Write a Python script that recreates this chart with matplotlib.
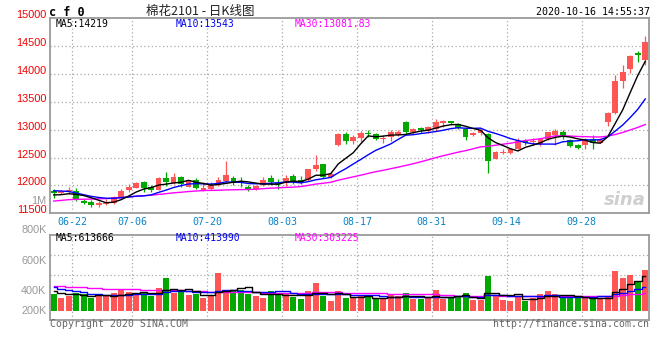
import matplotlib
matplotlib.use('Agg')
import matplotlib.pyplot as plt
import numpy as np
import pandas as pd

plt.rcParams['font.family'] = ['DejaVu Sans Mono', 'Noto Sans CJK SC']

# trading days shown on the chart (CF2101 daily K)
dates = pd.bdate_range('2020-06-17', '2020-10-16', freq='C',
                       holidays=['2020-06-25', '2020-06-26', '2020-10-01', '2020-10-02',
                                 '2020-10-05', '2020-10-06', '2020-10-07', '2020-10-08'])
day_labels = [d.strftime('%m-%d') for d in dates]
tick_labels = ['06-22', '07-06', '07-20', '08-03', '08-17', '08-31', '09-14', '09-28']

open_ = [11905, 11857, 11893, 11905, 11727, 11709, 11655, 11673, 11685, 11768,
         11923, 11958, 12066, 11965, 11923, 12131, 12036, 12155, 11976, 12101,
         11923, 11941, 12018, 12083, 12131, 12054, 11965, 11935, 12006, 12131,
         12042, 12042, 12173, 12096, 12096, 12292, 12381, 12155, 12720, 12917,
         12798, 12846, 12941, 12917, 12840, 12869, 12911, 13137, 12959, 13030,
         12970, 13018, 13125, 13149, 13101, 13006, 12899, 12946, 12917, 12482,
         12589, 12578, 12661, 12798, 12780, 12738, 12827, 12905, 12958, 12816,
         12726, 12720, 12839, 12768, 13131, 13292, 13881, 14095, 14369, 14250]
high = [11935, 11923, 11965, 11953, 11756, 11738, 11727, 11756, 11816, 11935,
        12024, 12066, 12084, 12006, 12143, 12250, 12220, 12173, 12101, 12125,
        12066, 12054, 12155, 12440, 12161, 12143, 12006, 12006, 12143, 12185,
        12113, 12185, 12197, 12161, 12304, 12548, 12393, 12262, 12935, 12953,
        12899, 12976, 12988, 12947, 12899, 12994, 12994, 13149, 13030, 13054,
        13066, 13197, 13173, 13161, 13125, 13018, 12958, 13018, 12946, 12613,
        12649, 12661, 12857, 12839, 12857, 12857, 12964, 13006, 12994, 12839,
        12744, 12857, 12899, 12857, 13310, 13982, 14161, 14345, 14417, 14690]
low = [11768, 11845, 11863, 11727, 11661, 11619, 11607, 11655, 11673, 11756,
       11875, 11947, 11875, 11887, 11917, 11994, 12024, 11965, 11965, 11935,
       11905, 11923, 11994, 12054, 12006, 11965, 11893, 11923, 11983, 12006,
       11935, 11983, 12018, 12018, 12084, 12256, 12131, 12137, 12708, 12738,
       12738, 12780, 12869, 12816, 12756, 12798, 12887, 12923, 12917, 12947,
       12947, 12982, 13054, 13101, 13006, 12816, 12887, 12911, 12232, 12470,
       12560, 12566, 12649, 12720, 12720, 12708, 12816, 12720, 12839, 12697,
       12661, 12661, 12661, 12756, 13060, 13280, 13756, 14024, 14214, 14161]
close = [11857, 11905, 11917, 11738, 11679, 11655, 11685, 11691, 11786, 11905,
         11976, 12048, 11958, 11917, 12131, 12066, 12149, 12024, 12089, 11958,
         11953, 12000, 12089, 12185, 12066, 12042, 11935, 11983, 12096, 12060,
         12030, 12131, 12066, 12054, 12292, 12369, 12143, 12203, 12923, 12798,
         12869, 12941, 12917, 12840, 12858, 12959, 12959, 12959, 13006, 12994,
         13042, 13137, 13149, 13125, 13024, 12875, 12941, 12994, 12441, 12601,
         12607, 12649, 12798, 12768, 12792, 12827, 12952, 12976, 12875, 12708,
         12673, 12827, 12768, 12816, 13298, 13875, 14042, 14321, 14333, 14571]
# volume in thousand lots
volume = [292, 222, 268, 321, 303, 222, 257, 257, 309, 373,
          327, 292, 332, 268, 397, 571, 315, 327, 274, 292,
          222, 257, 659, 362, 373, 373, 303, 257, 222, 344,
          321, 297, 239, 204, 344, 484, 262, 175, 350, 233,
          222, 257, 245, 210, 210, 292, 268, 309, 204, 216,
          222, 361, 210, 222, 268, 309, 187, 187, 612, 268,
          187, 175, 257, 175, 222, 292, 350, 292, 268, 222,
          222, 233, 210, 233, 257, 694, 571, 624, 501, 711]

# estimated sessions before the window (only feed the moving averages)
prev_close = [11550, 11520, 11580, 11600, 11560, 11540, 11600, 11620, 11580, 11610,
              11650, 11630, 11680, 11700, 11660, 11690, 11720, 11700, 11680, 11670,
              11950, 12000, 12020, 11980, 11950, 11880, 11830, 11800, 11780]
prev_volume = [480, 520, 430, 410, 470, 500, 440, 420, 460, 430,
               470, 450, 410, 440, 480, 460, 430, 450, 470, 430,
               520, 470, 500, 460, 475, 380, 350, 360, 343]

price_levels = [12000, 12500, 13000, 13500, 14000, 14500]
price_labels = [11500, 12000, 12500, 13000, 13500, 14000, 14500, 15000]
vol_labels = ['800K', '600K', '400K', '200K']

RED = '#ff5555'
GREEN = '#00a800'
GRID = '#a8a8a8'
FRAME = '#9a9a9a'

n = len(close)
x = np.arange(n)
o = np.array(open_)
c = np.array(close)
up = c >= o
colors = [RED if u else GREEN for u in up]

all_close = pd.Series(prev_close + close)
all_vol = pd.Series(prev_volume + volume)
k = len(prev_close)
ma = {w: all_close.rolling(w).mean().values[k:] for w in (5, 10, 30)}
vma = {w: all_vol.rolling(w).mean().values[k:] for w in (5, 10, 30)}
tick_pos = [day_labels.index(t) - 0.5 for t in tick_labels]

fig = plt.figure(figsize=(6.6, 3.6), dpi=100)
ax = fig.add_axes([50 / 660, 1 - 213.3 / 360, 599 / 660, 195 / 360])
axv = fig.add_axes([50 / 660, 1 - 319.7 / 360, 599 / 660, 85 / 360])

for a in (ax, axv):
    a.set_xlim(-0.5, n - 0.5)
    a.set_xticks([])
    a.set_yticks([])
    for s in a.spines.values():
        s.set_color(FRAME)
        s.set_linewidth(1.3)
    for t in tick_pos:
        a.axvline(t, color=GRID, ls=(0, (1, 2)), lw=0.9, zorder=0)

# price panel
ax.set_ylim(11500, 15000)
for p in price_levels:
    ax.axhline(p, color=GRID, ls=(0, (1, 2)), lw=0.9, zorder=0)
ax.vlines(x, low, high, colors=colors, lw=0.9, zorder=2)
body = np.maximum(np.abs(c - o), 12)
ax.bar(x, body, bottom=np.minimum(o, c), width=0.78, color=colors, zorder=3)
ax.plot(x, ma[30], color='#ff00ff', lw=1.0, zorder=4)
ax.plot(x, ma[10], color='#0000ff', lw=1.0, zorder=4)
ax.plot(x, ma[5], color='black', lw=1.0, zorder=4)

for p in price_labels:
    ax.text(-0.006, p + 55, str(p), transform=ax.get_yaxis_transform(),
            ha='right', va='center', color='#ee0000', fontsize=7.8,
            family='Liberation Sans')
ax.text(-0.006, 11726, '1M', transform=ax.get_yaxis_transform(), ha='right',
        va='center', color='#999999', fontsize=7.8, family='Liberation Sans')
for t, lab in zip(tick_pos, tick_labels):
    ax.text(t, -0.043, lab, transform=ax.get_xaxis_transform(), ha='center',
            va='center', color='#0a84c8', fontsize=7.2)

ax.text(0.009, 0.971, 'MA5:14219', transform=ax.transAxes, va='center', fontsize=7)
ax.text(0.209, 0.971, 'MA10:13543', transform=ax.transAxes, va='center',
        fontsize=7, color='#0000ee')
ax.text(0.409, 0.971, 'MA30:13081.83', transform=ax.transAxes, va='center',
        fontsize=7, color='#ff00ff')
ax.text(0.96, 0.07, 'sina', transform=ax.transAxes, ha='center', va='center',
        fontsize=13, color='#cfcfcf', style='italic', weight='bold',
        family='DejaVu Sans')

# volume panel
axv.set_ylim(-152, 1335)
for v in (625, 975):
    axv.axhline(v, color=GRID, ls=(0, (1, 2)), lw=0.9, zorder=0)
axv.bar(x, volume, width=0.8, color=colors, zorder=2)
axv.plot(x, vma[30], color='#ff00ff', lw=1.0, drawstyle='steps-mid', zorder=3)
axv.plot(x, vma[10], color='#0000ff', lw=1.0, drawstyle='steps-mid', zorder=3)
axv.plot(x, vma[5], color='black', lw=1.0, drawstyle='steps-mid', zorder=3)

for lab, yv in zip(vol_labels, [1411, 875, 350, 5]):
    axv.text(-0.006, yv, lab, transform=axv.get_yaxis_transform(), ha='right',
             va='center', color='#999999', fontsize=7.8, family='Liberation Sans')
axv.text(0.009, 0.958, 'MA5:613666', transform=axv.transAxes, va='center', fontsize=7)
axv.text(0.209, 0.958, 'MA10:413990', transform=axv.transAxes, va='center',
         fontsize=7, color='#0000ee')
axv.text(0.409, 0.958, 'MA30:303225', transform=axv.transAxes, va='center',
         fontsize=7, color='#ff00ff')

# header / footer
fig.text(49 / 660, 1 - 12 / 360, 'c f 0', fontsize=8.5, weight='bold', va='center')
fig.text(200 / 660, 1 - 11.7 / 360, '棉花2101 - 日K线图', family='Noto Sans CJK SC',
         fontsize=9, ha='center', va='center', color='#222222')
fig.text(650 / 660, 1 - 12.3 / 360, '2020-10-16 14:55:37', fontsize=7.2,
         ha='right', va='center')
fig.text(50 / 660, 1 - 324 / 360, 'Copyright 2020 SINA.COM', fontsize=7.1,
         color='#666666', va='center')
fig.text(649 / 660, 1 - 324 / 360, 'http://finance.sina.com.cn', fontsize=7.1,
         color='#666666', va='center', ha='right')

fig.savefig('out.png', dpi=100, facecolor='white')
